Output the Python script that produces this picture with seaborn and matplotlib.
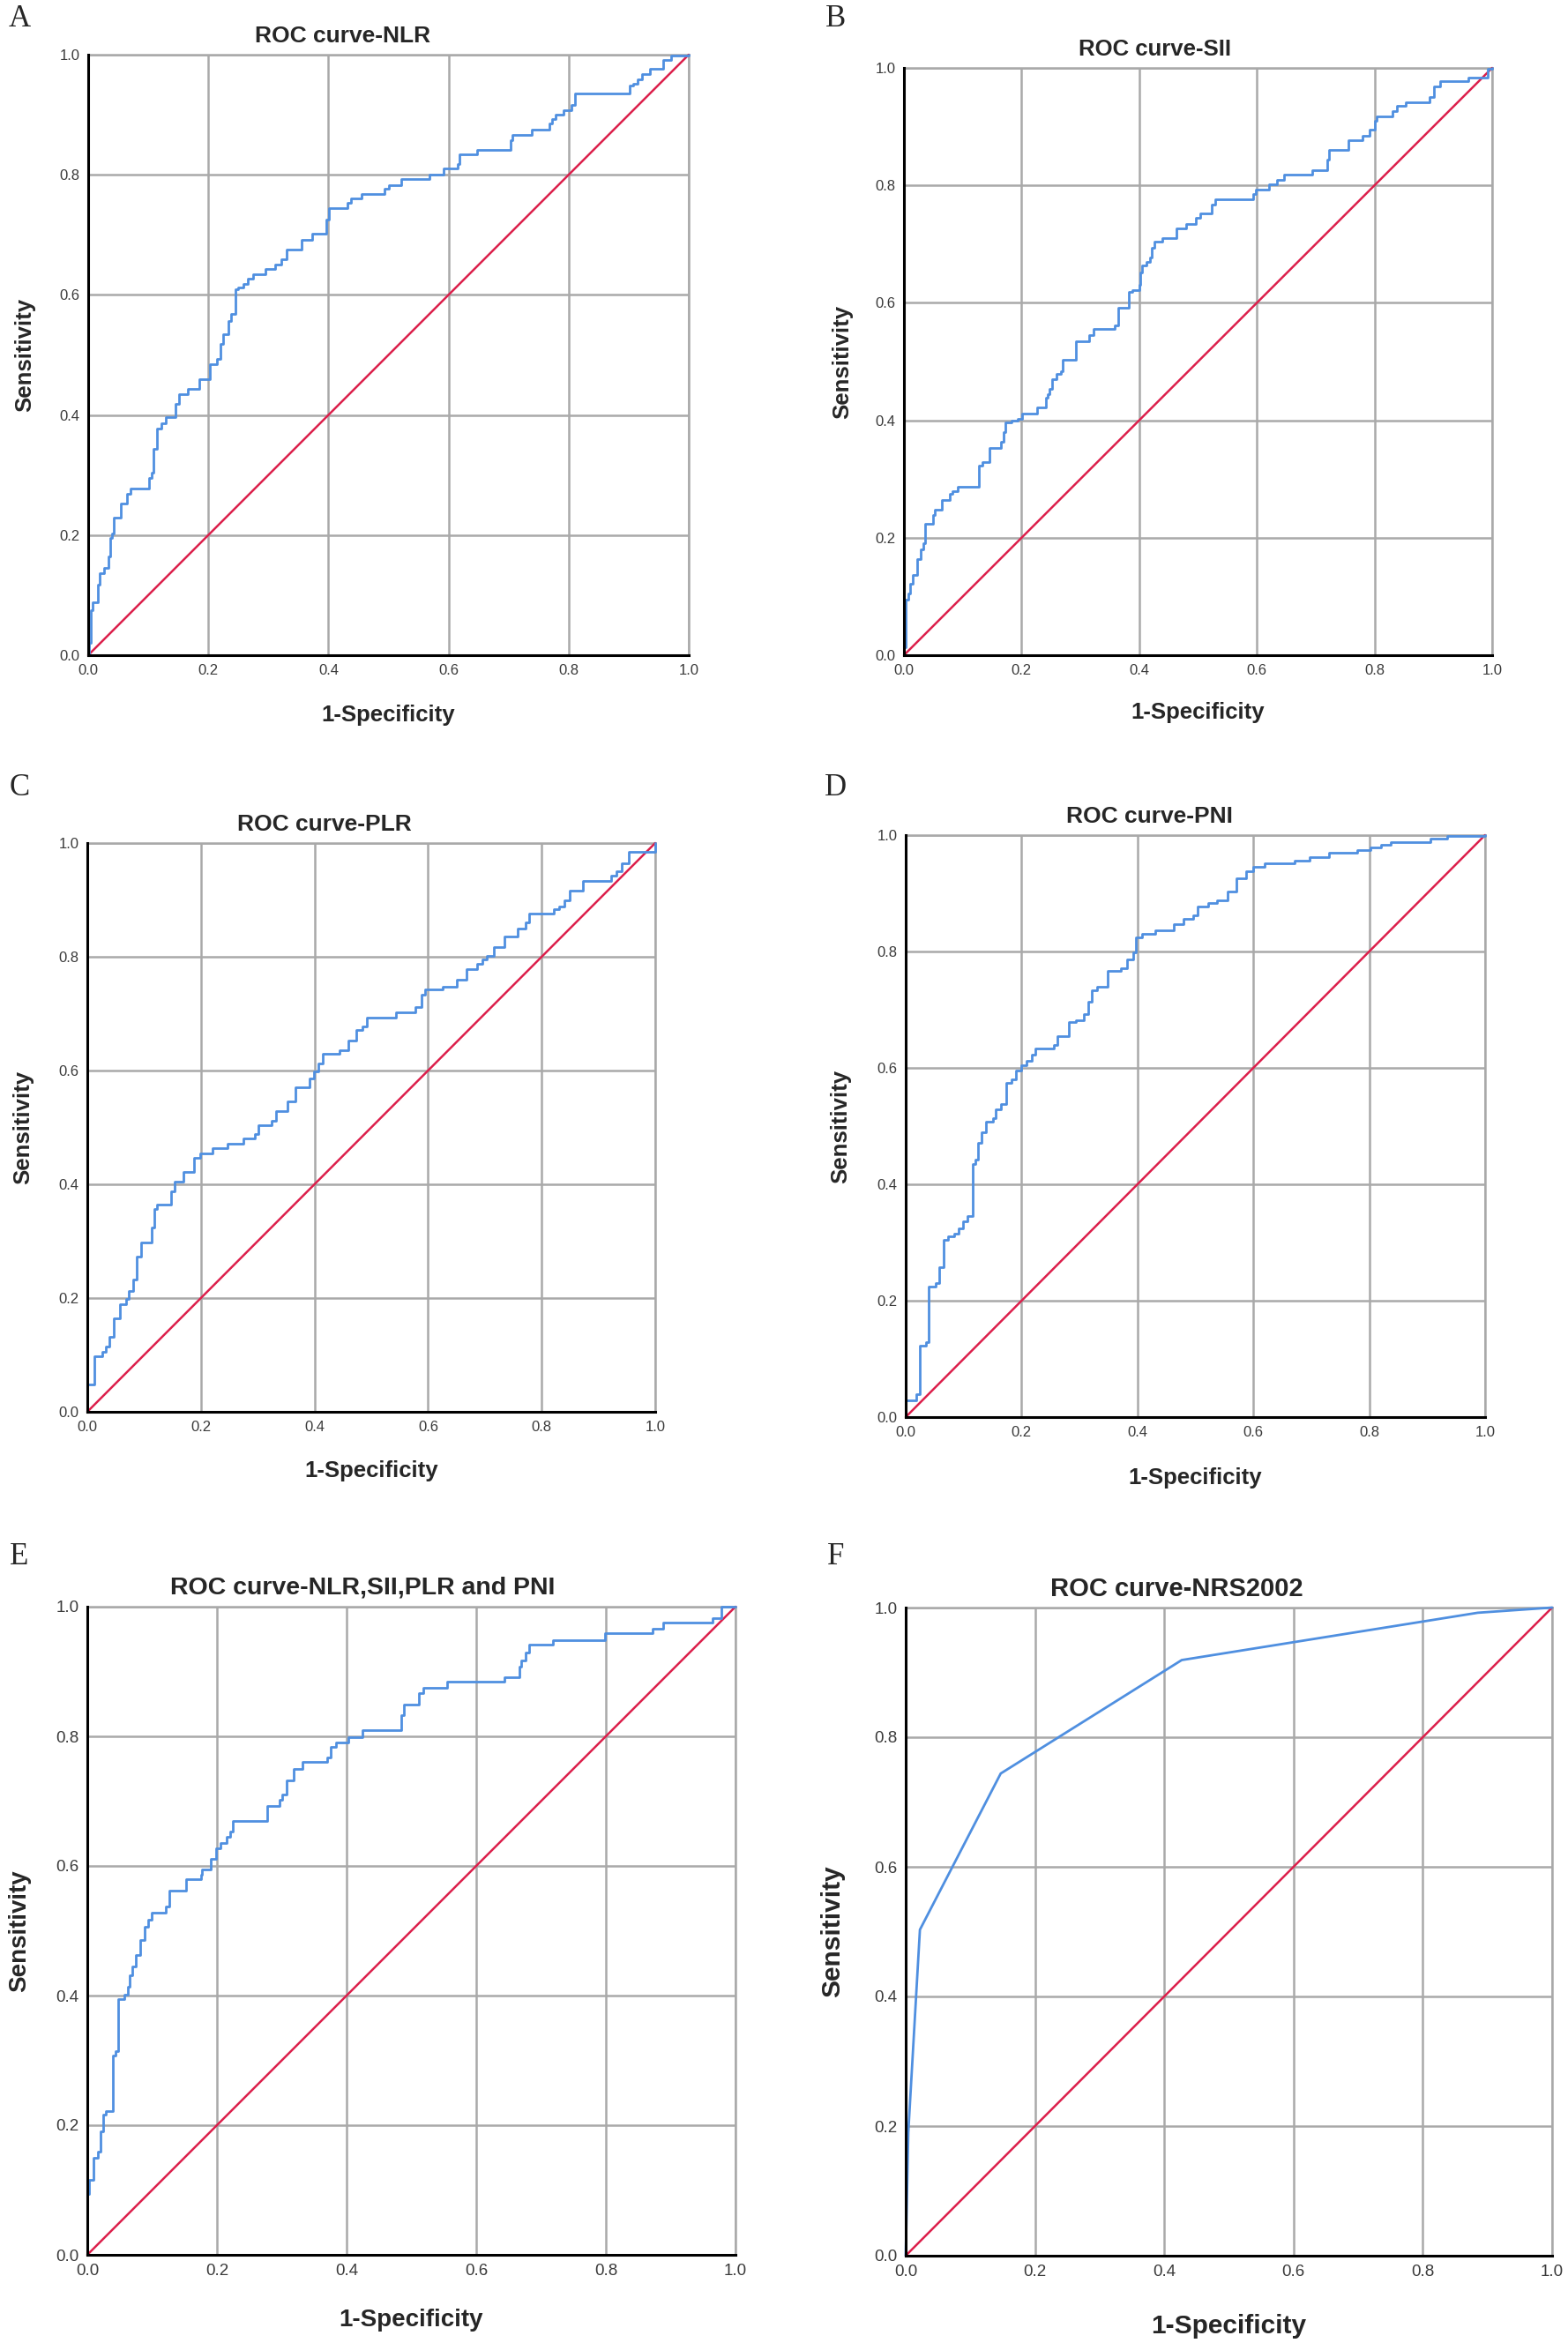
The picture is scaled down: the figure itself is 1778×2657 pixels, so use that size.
import seaborn as sns
import matplotlib.pyplot as plt

# ROC points (fpr where the step happens, tpr after it)

nlr_fpr = [0, 0.001, 0.004, 0.008, 0.016, 0.019, 0.026, 0.034, 0.036, 0.040, 0.042, 0.054,
           0.055, 0.065, 0.070, 0.102, 0.106, 0.109, 0.114, 0.122, 0.129, 0.145, 0.151, 0.166,
           0.185, 0.202, 0.215, 0.220, 0.225, 0.233, 0.238, 0.245, 0.249, 0.259, 0.266, 0.274,
           0.295, 0.311, 0.321, 0.331, 0.355, 0.373, 0.396, 0.401, 0.432, 0.437, 0.455, 0.494,
           0.501, 0.522, 0.568, 0.592, 0.615, 0.618, 0.648, 0.703, 0.706, 0.738, 0.768, 0.773,
           0.778, 0.792, 0.804, 0.811, 0.901, 0.907, 0.915, 0.922, 0.935, 0.958, 0.971, 1.0]
nlr_tpr = [0, 0.020, 0.075, 0.088, 0.118, 0.137, 0.145, 0.164, 0.196, 0.203, 0.229, 0.236,
           0.252, 0.268, 0.278, 0.295, 0.304, 0.344, 0.378, 0.386, 0.396, 0.419, 0.435, 0.444,
           0.459, 0.484, 0.494, 0.518, 0.535, 0.556, 0.568, 0.609, 0.612, 0.618, 0.627, 0.634,
           0.643, 0.651, 0.660, 0.675, 0.692, 0.702, 0.725, 0.744, 0.753, 0.760, 0.768, 0.777,
           0.783, 0.793, 0.801, 0.810, 0.818, 0.834, 0.842, 0.857, 0.867, 0.875, 0.885, 0.893,
           0.900, 0.908, 0.916, 0.935, 0.949, 0.952, 0.959, 0.967, 0.976, 0.991, 0.998, 1.0]

sii_fpr = [0, 0.0, 0.003, 0.007, 0.010, 0.015, 0.022, 0.028, 0.033, 0.036, 0.049, 0.052,
           0.065, 0.078, 0.082, 0.092, 0.127, 0.134, 0.145, 0.165, 0.170, 0.173, 0.183, 0.193,
           0.201, 0.227, 0.242, 0.245, 0.248, 0.252, 0.260, 0.267, 0.270, 0.293, 0.315, 0.322,
           0.358, 0.365, 0.382, 0.389, 0.400, 0.402, 0.405, 0.412, 0.418, 0.422, 0.426, 0.439,
           0.463, 0.480, 0.497, 0.503, 0.523, 0.529, 0.593, 0.598, 0.620, 0.634, 0.646, 0.694,
           0.719, 0.722, 0.755, 0.779, 0.791, 0.801, 0.804, 0.830, 0.838, 0.853, 0.893, 0.901,
           0.912, 0.959, 0.993, 1.0]
sii_tpr = [0, 0.013, 0.095, 0.105, 0.121, 0.137, 0.164, 0.180, 0.191, 0.223, 0.239, 0.247,
           0.265, 0.275, 0.280, 0.287, 0.323, 0.329, 0.353, 0.363, 0.380, 0.396, 0.399, 0.402,
           0.412, 0.422, 0.438, 0.445, 0.453, 0.470, 0.479, 0.484, 0.503, 0.535, 0.545, 0.555,
           0.561, 0.592, 0.618, 0.622, 0.630, 0.651, 0.664, 0.669, 0.677, 0.694, 0.704, 0.710,
           0.726, 0.734, 0.744, 0.753, 0.767, 0.777, 0.785, 0.793, 0.802, 0.810, 0.818, 0.826,
           0.844, 0.861, 0.877, 0.885, 0.895, 0.910, 0.918, 0.926, 0.936, 0.942, 0.950, 0.969,
           0.977, 0.984, 0.998, 1.0]

plr_fpr = [0, 0.0, 0.013, 0.026, 0.033, 0.039, 0.046, 0.058, 0.069, 0.073, 0.080, 0.087,
           0.095, 0.114, 0.118, 0.123, 0.147, 0.154, 0.169, 0.188, 0.199, 0.221, 0.247, 0.275,
           0.295, 0.302, 0.325, 0.332, 0.353, 0.366, 0.392, 0.399, 0.407, 0.415, 0.444, 0.459,
           0.474, 0.484, 0.493, 0.544, 0.578, 0.588, 0.595, 0.626, 0.650, 0.667, 0.686, 0.696,
           0.703, 0.716, 0.735, 0.758, 0.771, 0.778, 0.822, 0.830, 0.840, 0.850, 0.873, 0.922,
           0.931, 0.941, 0.954, 1.0]
plr_tpr = [0, 0.048, 0.098, 0.106, 0.115, 0.132, 0.165, 0.189, 0.198, 0.213, 0.232, 0.273,
           0.297, 0.324, 0.357, 0.364, 0.387, 0.404, 0.421, 0.447, 0.455, 0.463, 0.472, 0.480,
           0.488, 0.504, 0.512, 0.528, 0.545, 0.571, 0.586, 0.599, 0.612, 0.629, 0.636, 0.652,
           0.671, 0.678, 0.693, 0.703, 0.711, 0.733, 0.742, 0.748, 0.759, 0.778, 0.787, 0.795,
           0.801, 0.817, 0.835, 0.850, 0.860, 0.876, 0.883, 0.889, 0.899, 0.917, 0.933, 0.943,
           0.951, 0.965, 0.984, 1.0]

pni_fpr = [0, 0.0, 0.018, 0.024, 0.035, 0.040, 0.052, 0.058, 0.065, 0.073, 0.083, 0.091,
           0.099, 0.107, 0.115, 0.120, 0.125, 0.131, 0.139, 0.150, 0.156, 0.164, 0.174, 0.182,
           0.190, 0.200, 0.209, 0.217, 0.224, 0.255, 0.262, 0.281, 0.293, 0.307, 0.315, 0.321,
           0.330, 0.349, 0.372, 0.382, 0.392, 0.398, 0.408, 0.431, 0.462, 0.480, 0.496, 0.504,
           0.522, 0.538, 0.556, 0.571, 0.587, 0.600, 0.619, 0.671, 0.697, 0.730, 0.779, 0.802,
           0.821, 0.837, 0.906, 0.935, 1.0]
pni_tpr = [0, 0.029, 0.040, 0.122, 0.129, 0.225, 0.231, 0.258, 0.304, 0.310, 0.315, 0.325,
           0.336, 0.345, 0.435, 0.443, 0.471, 0.490, 0.508, 0.514, 0.529, 0.538, 0.575, 0.581,
           0.596, 0.604, 0.612, 0.623, 0.633, 0.640, 0.655, 0.679, 0.682, 0.692, 0.713, 0.734,
           0.740, 0.766, 0.771, 0.786, 0.799, 0.825, 0.831, 0.836, 0.847, 0.856, 0.862, 0.877,
           0.883, 0.888, 0.903, 0.925, 0.938, 0.945, 0.951, 0.956, 0.962, 0.969, 0.974, 0.979,
           0.984, 0.988, 0.994, 0.999, 1.0]

comb_fpr = [0, 0.0, 0.003, 0.010, 0.016, 0.021, 0.025, 0.029, 0.039, 0.044, 0.047, 0.057,
            0.062, 0.065, 0.070, 0.075, 0.081, 0.088, 0.094, 0.099, 0.121, 0.127, 0.153, 0.175,
            0.177, 0.190, 0.199, 0.205, 0.215, 0.221, 0.225, 0.277, 0.296, 0.300, 0.307, 0.319,
            0.332, 0.370, 0.375, 0.383, 0.403, 0.425, 0.485, 0.489, 0.511, 0.518, 0.555, 0.644,
            0.666, 0.670, 0.676, 0.681, 0.718, 0.798, 0.872, 0.889, 0.964, 0.978, 1.0]
comb_tpr = [0, 0.094, 0.115, 0.149, 0.159, 0.190, 0.216, 0.222, 0.307, 0.314, 0.395, 0.402,
            0.413, 0.431, 0.445, 0.463, 0.486, 0.506, 0.517, 0.528, 0.538, 0.562, 0.579, 0.587,
            0.595, 0.611, 0.627, 0.635, 0.645, 0.653, 0.669, 0.693, 0.702, 0.710, 0.732, 0.750,
            0.760, 0.768, 0.784, 0.791, 0.799, 0.810, 0.833, 0.849, 0.866, 0.875, 0.885, 0.891,
            0.907, 0.917, 0.929, 0.942, 0.948, 0.959, 0.966, 0.975, 0.982, 1.0, 1.0]

nrs_fpr = [0, 0.004, 0.022, 0.147, 0.427, 0.885, 1.0]
nrs_tpr = [0, 0.19, 0.503, 0.744, 0.919, 0.992, 1.0]

ref_line = [0, 1]
ticks = [0.0, 0.2, 0.4, 0.6, 0.8, 1.0]
tick_labels = ["0.0", "0.2", "0.4", "0.6", "0.8", "1.0"]

panels = [
    # letter, title, fpr, tpr, steps, axes box in px (x0, y0, x1, y1)
    ("A", "ROC curve-NLR", nlr_fpr, nlr_tpr, True, (100, 62, 781, 743)),
    ("B", "ROC curve-SII", sii_fpr, sii_tpr, True, (1025, 77, 1692, 743)),
    ("C", "ROC curve-PLR", plr_fpr, plr_tpr, True, (99, 956, 743, 1601)),
    ("D", "ROC curve-PNI", pni_fpr, pni_tpr, True, (1027, 947, 1684, 1607)),
    ("E", "ROC curve-NLR,SII,PLR and PNI", comb_fpr, comb_tpr, True, (99, 1822, 834, 2557)),
    ("F", "ROC curve-NRS2002", nrs_fpr, nrs_tpr, False, (1027, 1823, 1760, 2558)),
]

# per panel text sizes / offsets (px)
title_size = [19, 18.5, 19, 19, 20.5, 21]
label_size = [18.5, 18.5, 18.5, 18.5, 20, 21.5]
tick_size = [12, 12, 12, 12, 13.5, 13.5]
xlab_off = [56, 53, 55, 57, 61, 66]     # top of x label below the axes
ylab_off = [60, 58, 61, 62, 64, 69]     # right edge of y label left of the axes
title_shift = [52, 49, 53, 52, 55, 59]

W, H = 1778, 2657
BLUE = "#4F8FE0"
RED = "#DC1F4B"
GRID = "#A9A9A9"

sns.set_theme(style="white")
plt.rcParams['font.family'] = ['Liberation Sans', 'DejaVu Sans']

fig = plt.figure(figsize=(W / 100, H / 100), dpi=100)
fig.patch.set_facecolor("white")

for i, (letter, title, fpr, tpr, steps, box) in enumerate(panels):
    x0, y0, x1, y1 = box
    w, h = x1 - x0, y1 - y0
    ax = fig.add_axes([x0 / W, 1 - y1 / H, w / W, h / H])

    sns.lineplot(x=ref_line, y=ref_line, ax=ax, color=RED, lw=1.8,
                 estimator=None, sort=False, clip_on=False, zorder=3)
    sns.lineplot(x=fpr, y=tpr, ax=ax, color=BLUE, lw=2.0,
                 estimator=None, sort=False, clip_on=False, zorder=4,
                 drawstyle="steps-post" if steps else "default")

    ax.set_xlim(0, 1)
    ax.set_ylim(0, 1)
    ax.set_xticks(ticks)
    ax.set_yticks(ticks)
    ax.set_xticklabels(tick_labels)
    ax.set_yticklabels(tick_labels)
    ax.tick_params(length=0, pad=7, labelsize=tick_size[i], labelcolor="#3a3a3a")
    ax.grid(True, color=GRID, lw=1.8)
    ax.set_axisbelow(True)

    for side in ["top", "right"]:
        ax.spines[side].set_color(GRID)
        ax.spines[side].set_linewidth(1.8)
    for side in ["left", "bottom"]:
        ax.spines[side].set_color("black")
        ax.spines[side].set_linewidth(2.2)
        ax.spines[side].set_zorder(5)

    ax.set_xlabel("1-Specificity", fontsize=label_size[i], fontweight="bold")
    ax.set_ylabel("Sensitivity", fontsize=label_size[i], fontweight="bold")
    ax.xaxis.set_label_coords(0.5, -xlab_off[i] / h)
    ax.yaxis.set_label_coords(-ylab_off[i] / w, 0.5)

    ax.text(0.5 - title_shift[i] / w, 1 + 21 / h, title, transform=ax.transAxes,
            ha="center", va="center", fontsize=title_size[i], fontweight="bold")

    lx = 22 if letter in "ACE" else 948
    ly = {"A": 22, "B": 22, "C": 893, "D": 893, "E": 1766, "F": 1766}[letter]
    fig.text(lx / W, 1 - ly / H, letter, ha="center", va="center",
             fontsize=25, family=["Liberation Serif", "DejaVu Serif"])

fig.savefig("out.png", dpi=100, facecolor="white")
